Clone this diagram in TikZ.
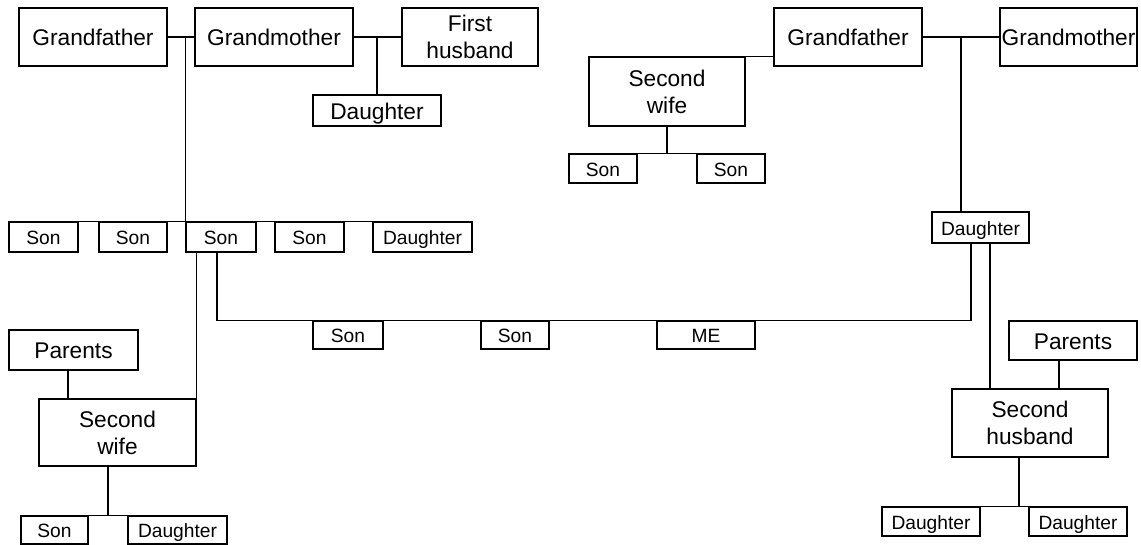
\documentclass[tikz,border=0pt]{standalone}
\usepackage{fontspec}
\setmainfont{Liberation Sans}
\usetikzlibrary{calc}

\tikzset{
  person/.style={draw, line width=1.3pt, inner sep=0pt, align=center,
    font=\fontsize{22.7}{27}\selectfont},
  oneline/.style={text height=18pt, text depth=0pt},
  kid/.style={person, text height=15.5pt, text depth=0pt,
    font=\fontsize{19.2}{23}\selectfont},
}

\begin{document}
\begin{tikzpicture}[x=1pt, y=-1pt, line width=1.3pt]
  \useasboundingbox (0,0) rectangle (1141,545);
  % father's side: grandparents and the first marriage
  \node[person, oneline, minimum width=148, minimum height=58] (grandpaL) at (93,37) {Grandfather};
  \node[person, oneline, minimum width=158, minimum height=58] (grandmaL) at (274,37) {Grandmother};
  \node[person, minimum width=136, minimum height=58] (firsthusb) at (470,37) {First\\husband};
  \node[person, oneline, minimum width=128, minimum height=31] (halfsis) at (377,110.5) {Daughter};
  % their children
  \node[kid, minimum width=69, minimum height=30] (sonA) at (43.5,237) {Son};
  \node[kid, minimum width=68, minimum height=30] (sonB) at (133,237) {Son};
  \node[kid, minimum width=70, minimum height=30] (sonC) at (221,237) {Son};
  \node[kid, minimum width=69, minimum height=30] (sonD) at (309.5,237) {Son};
  \node[kid, minimum width=99, minimum height=30] (dauA) at (422.5,237) {Daughter};
  % father's second family
  \node[person, oneline, minimum width=129, minimum height=40] (parentsL) at (73.5,350) {Parents};
  \node[person, minimum width=157, minimum height=67] (swifeL) at (117.5,432.5) {Second\\wife};
  \node[kid, minimum width=67, minimum height=28] (sonF) at (54.5,530) {Son};
  \node[kid, minimum width=99, minimum height=28] (dauF) at (177.5,530) {Daughter};
  % mother's side
  \node[person, oneline, minimum width=148, minimum height=58] (grandpaR) at (848,37) {Grandfather};
  \node[person, oneline, minimum width=137, minimum height=58] (grandmaR) at (1068.5,37) {Grandmother};
  \node[person, minimum width=156, minimum height=69] (swifeR) at (667,91.5) {Second\\wife};
  \node[kid, minimum width=68, minimum height=29] (sonR1) at (603,168.5) {Son};
  \node[kid, minimum width=68, minimum height=29] (sonR2) at (731,168.5) {Son};
  \node[kid, minimum width=97, minimum height=31] (dauR) at (980.5,227.5) {Daughter};
  \node[person, oneline, minimum width=128, minimum height=39] (parentsR) at (1073,340.5) {Parents};
  \node[person, minimum width=156, minimum height=68] (shusb) at (1030,423) {Second\\husband};
  \node[kid, minimum width=98, minimum height=29] (dauR1) at (931,521.5) {Daughter};
  \node[kid, minimum width=98, minimum height=29] (dauR2) at (1078,521.5) {Daughter};
  % my generation
  \node[kid, minimum width=70, minimum height=28] (bro1) at (348,335) {Son};
  \node[kid, minimum width=68, minimum height=28] (bro2) at (515,335) {Son};
  \node[kid, minimum width=98, minimum height=28] (me) at (706,335) {ME};

  % lines, father's side
  \draw (grandpaL) -- (grandmaL);
  \draw (sonC.north west) |- (grandpaL.east);
  \draw (sonA.north west) -- (dauA.north east);
  \draw (grandmaL) -- (firsthusb);
  \draw (halfsis.north) -- (halfsis.north |- grandmaL.east);
  \draw (sonC.south -| swifeL.north east) -- (swifeL.north east);
  \draw ([xshift=-5.5]parentsL.south) -- ([xshift=-5.5]parentsL.south |- swifeL.north);
  \draw (sonF.north east) -- coordinate[midway] (j1) (dauF.north west);
  \draw (j1) -- (j1 |- swifeL.south);
  % the marriage that gives me
  \draw ([xshift=-4]sonC.south) |- (me.north) -| ([xshift=-9.5]dauR.south);
  % lines, mother's side
  \draw (grandpaR) -- coordinate[midway] (j2) (grandmaR);
  \draw (j2) -- (j2 |- dauR.north);
  \draw (swifeR.north east) -- (swifeR.north east -| grandpaR.west);
  \draw (sonR1.north east) -- coordinate[midway] (j3) (sonR2.north west);
  \draw (j3) -- (j3 |- swifeR.south);
  \draw ([xshift=9.5]dauR.south) -- ([xshift=9.5]dauR.south |- shusb.north);
  \draw ([xshift=-14]parentsR.south) -- ([xshift=-14]parentsR.south |- shusb.north);
  \draw ([xshift=-11]shusb.south) -- ([xshift=-11]shusb.south |- dauR1.north);
  \draw (dauR1.north east) -- (dauR2.north west);
\end{tikzpicture}
\end{document}
